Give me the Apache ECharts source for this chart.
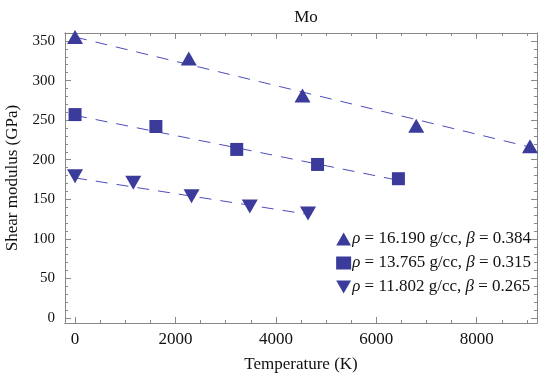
<!DOCTYPE html>
<html><head><meta charset="utf-8">
<script src="https://cdn.jsdelivr.net/npm/echarts@6/dist/echarts.min.js"></script>
<style>html,body{margin:0;padding:0;background:#fff}#c{width:550px;height:378px}</style>
</head><body><div id="c"></div>
<script>
const titleText = 'Mo';
const xName = 'Temperature (K)';
const yName = 'Shear modulus (GPa)';
const xMajor = [0, 2000, 4000, 6000, 8000];
const xMinor = [500, 1000, 1500, 2500, 3000, 3500, 4500, 5000, 5500, 6500, 7000, 7500, 8500, 9000];
const yMajor = [0, 50, 100, 150, 200, 250, 300, 350];
const yMinor = [10,20,30,40,60,70,80,90,110,120,130,140,160,170,180,190,210,220,230,240,260,270,280,290,310,320,330,340];

const legendLabels = ['ρ = 16.190 g/cc, β = 0.384', 'ρ = 13.765 g/cc, β = 0.315', 'ρ = 11.802 g/cc, β = 0.265'];
const tempA = [0, 2265, 4530, 6795, 9060];
const shearA = [355, 328, 281, 243, 217];
const tempB = [0, 1610, 3220, 4830, 6440];
const shearB = [257, 242, 213, 194, 176];
const tempC = [0, 1160, 2320, 3480, 4640];
const shearC = [179, 171, 154, 141, 132];
const fitA = [[0, 355], [9060, 216]];
const fitB = [[0, 256], [6440, 174]];
const fitC = [[0, 177], [4640, 131]];

const MARK = '#3b3b9c', LINE = '#4d4dbd', FRAME = '#888', FONT = 'Liberation Serif', FS = 17;
const DOWN = 'path://M0,0 L2,0 L1,1.75 Z';
const UP = 'path://M1,0 L2,1.75 L0,1.75 Z';
const zip = (a, b) => a.map((v, i) => [v, b[i]]);

function xAx(pos, vals, len, labels) {
  return { type: 'value', position: pos, min: -200, max: 9200,
    axisLine: { show: true, onZero: false, lineStyle: { color: FRAME, width: 1 } },
    axisTick: { show: true, inside: true, length: len, customValues: vals, lineStyle: { color: FRAME } },
    axisLabel: { show: labels, customValues: vals, margin: 8, color: '#111', fontFamily: FONT, fontSize: FS,
      formatter: v => String(v) },
    splitLine: { show: false } };
}
function yAx(pos, vals, len, labels) {
  return { type: 'value', position: pos, min: -6.3, max: 360.1,
    axisLine: { show: true, onZero: false, lineStyle: { color: FRAME, width: 1 } },
    axisTick: { show: true, inside: true, length: len, customValues: vals, lineStyle: { color: FRAME } },
    axisLabel: { show: labels, customValues: vals, margin: 10, color: '#111', fontFamily: FONT, fontSize: 15,
      formatter: v => String(v) },
    splitLine: { show: false } };
}
const xAxes = [xAx('bottom', xMajor, 6, true), xAx('bottom', xMinor, 3, false), xAx('top', xMajor, 6, false), xAx('top', xMinor, 3, false)];
Object.assign(xAxes[0], { name: xName, nameLocation: 'middle', nameGap: 33, nameTextStyle: { color: '#111', fontFamily: FONT, fontSize: FS } });
const yAxes = [yAx('left', yMajor, 6, true), yAx('left', yMinor, 3, false), yAx('right', yMajor, 6, false), yAx('right', yMinor, 3, false)];
Object.assign(yAxes[0], { name: yName, nameLocation: 'middle', nameGap: 44, nameTextStyle: { color: '#111', fontFamily: FONT, fontSize: FS } });

function fit(d) {
  return { type: 'line', data: d, symbol: 'none', silent: true, z: 1,
    lineStyle: { color: LINE, width: 1, type: [12, 9] } };
}
function pts(name, d, symbol, size) {
  return { type: 'scatter', name: name, data: d, symbol: symbol, symbolSize: size, z: 3,
    itemStyle: { color: MARK, opacity: 1 } };
}

const chart = echarts.init(document.getElementById('c'), null, { renderer: 'canvas' });
chart.setOption({
  animation: false,
  backgroundColor: '#fff',
  title: { text: titleText, left: 301, top: 4, textAlign: 'center',
    textStyle: { fontFamily: FONT, fontSize: FS, fontWeight: 'normal', color: '#111' } },
  grid: { left: 65, top: 33, right: 13, bottom: 55, containLabel: false, outerBoundsMode: 'none' },
  xAxis: xAxes,
  yAxis: yAxes,
  legend: {
    data: [
      { name: legendLabels[0], icon: UP },
      { name: legendLabels[1], icon: 'rect' },
      { name: legendLabels[2], icon: DOWN }
    ],
    right: 19, top: 230, orient: 'vertical', itemGap: 6,
    itemWidth: 15, itemHeight: 13, padding: 0, align: 'left',
    formatter: function (n) { return n.replace(/([ρβ])/g, '{i|$1}'); },
    textStyle: { fontFamily: FONT, fontSize: FS, lineHeight: 18, color: '#111', padding: [0, 0, 0, -4],
      rich: { i: { fontFamily: FONT, fontSize: FS, lineHeight: 18, fontStyle: 'italic', color: '#111' } } }
  },
  series: [
    fit(fitA), fit(fitB), fit(fitC),
    pts(legendLabels[0], zip(tempA, shearA), UP, [16, 14]),
    pts(legendLabels[1], zip(tempB, shearB), 'rect', 13),
    pts(legendLabels[2], zip(tempC, shearC), DOWN, [16, 14])
  ]
});
</script></body></html>
